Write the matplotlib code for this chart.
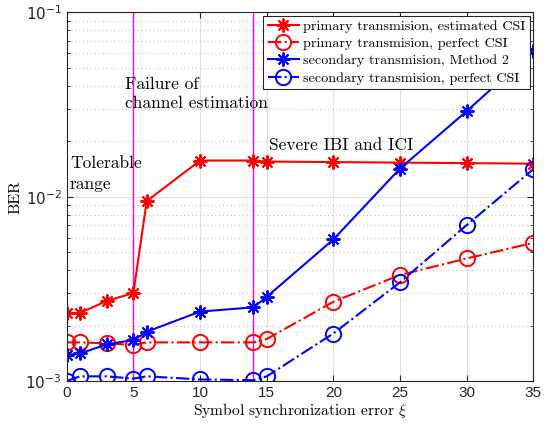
import matplotlib
matplotlib.use("Agg")
import matplotlib.pyplot as plt
from matplotlib.ticker import FixedLocator, LogLocator, NullFormatter

plt.rcParams["font.family"] = "cmr10"
plt.rcParams["mathtext.fontset"] = "cm"
plt.rcParams["axes.unicode_minus"] = False

# data
xi_pe = [0, 1, 3, 5, 6, 10, 14, 15, 20, 25, 30, 35]
ber_primary_est = [0.00234, 0.00234, 0.00272, 0.0030, 0.00946, 0.0157, 0.0157,
                   0.0155, 0.0154, 0.0153, 0.0152, 0.0151]
ber_primary_perf = [0.00162, 0.00162, 0.00160, 0.00157, 0.00162, 0.00162, 0.00162,
                    0.00169, 0.00269, 0.00376, 0.00462, 0.00562]
ber_secondary_m2 = [0.00138, 0.00141, 0.00158, 0.00167, 0.00185, 0.00238, 0.00251,
                    0.00286, 0.00586, 0.0142, 0.0291, 0.0615]
ber_secondary_perf = [0.00100, 0.00106, 0.00106, 0.00103, 0.00106, 0.00102, 0.00101,
                      0.00106, 0.00181, 0.00343, 0.00701, 0.0141]
boundaries = [5, 14]
xticks = [0, 5, 10, 15, 20, 25, 30, 35]
yticks = [1e-3, 1e-2, 1e-1]
ytick_labels = ["$10^{-3}$", "$10^{-2}$", "$10^{-1}$"]
series_labels = [
    "primary transmision, estimated CSI",
    "primary transmision, perfect CSI",
    "secondary transmision, Method 2",
    "secondary transmision, perfect CSI",
]

fig = plt.figure(figsize=(5.46, 4.24), dpi=100)
ax = fig.add_axes([0.1222, 0.1014, 0.8546, 0.8696])

star = (8, 2, 0)
lw = 1.5
ax.semilogy(xi_pe, ber_primary_est, "-", color="red", lw=lw, marker=star,
            ms=10, mew=1.4, label=series_labels[0])
ax.semilogy(xi_pe, ber_primary_perf, "-.", color="red", lw=lw, marker="o",
            ms=11, mew=1.4, mfc="none", label=series_labels[1])
ax.semilogy(xi_pe, ber_secondary_m2, "-", color="blue", lw=lw, marker=star,
            ms=10, mew=1.4, label=series_labels[2])
ax.semilogy(xi_pe, ber_secondary_perf, "-.", color="blue", lw=lw, marker="o",
            ms=11, mew=1.4, mfc="none", label=series_labels[3])

for b in boundaries:
    ax.axvline(b, color="magenta", lw=1.0, zorder=1)

ax.set_xlim(0, 35)
ax.set_ylim(1e-3, 1e-1)
ax.xaxis.set_major_locator(FixedLocator(xticks))
ax.set_yticks(yticks)
ax.set_yticklabels(ytick_labels)
ax.yaxis.set_minor_locator(LogLocator(base=10, subs=range(2, 10)))
ax.yaxis.set_minor_formatter(NullFormatter())
for lab in ax.get_xticklabels() + ax.get_yticklabels():
    lab.set_family("Liberation Sans")
    lab.set_fontsize(11)
    lab.set_color("0.15")
    lab.set_math_fontfamily("dejavusans")

ax.tick_params(which="both", direction="in", top=True, right=True, color="0.15")
ax.tick_params(which="major", length=4)
ax.tick_params(which="minor", length=2.5)
for s in ax.spines.values():
    s.set_color("0.15")
    s.set_linewidth(0.8)

ax.grid(True, which="major", color="0.88", lw=0.8, zorder=0)
ax.grid(True, which="minor", axis="y", color="0.72", lw=0.7, ls=(0, (1, 3)))
ax.set_axisbelow(True)

ax.set_xlabel(r"Symbol synchronization error $\xi$", fontsize=11.2, labelpad=1)
ax.set_ylabel("BER", fontsize=11.5, labelpad=2)

ax.text(0.25, 0.0166, "Tolerable\nrange", fontsize=12.5, va="top", ha="left",
        linespacing=1.45)
ax.text(4.4, 0.0445, "Failure of\nchannel estimation", fontsize=12.5, va="top",
        ha="left", linespacing=1.3)
ax.text(15.2, 0.021, "Severe IBI and ICI", fontsize=12.5, va="top", ha="left")

leg = ax.legend(loc="upper right", fontsize=10.2, borderaxespad=0.25,
                fancybox=False, edgecolor="0.15", framealpha=1,
                handlelength=2.2, handletextpad=0.3, borderpad=0.3,
                labelspacing=0.3)
leg.get_frame().set_linewidth(0.8)

fig.savefig("out.png", dpi=100)
